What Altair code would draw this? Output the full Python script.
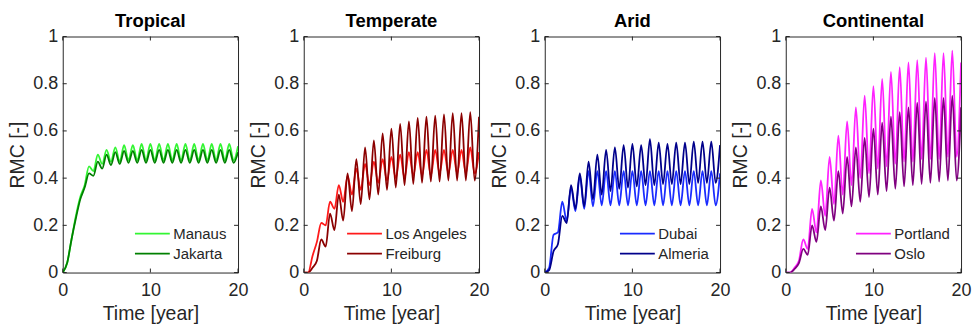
import altair as alt
import pandas as pd

# ---------------- data ----------------
time_years = [0, 0.5, 1, 1.5, 2, 2.5, 3, 3.5, 4, 4.5,
              5, 5.5, 6, 6.5, 7, 7.5, 8, 8.5, 9, 9.5,
              10, 10.5, 11, 11.5, 12, 12.5, 13, 13.5, 14, 14.5,
              15, 15.5, 16, 16.5, 17, 17.5, 18, 18.5, 19, 19.5,
              20]

manaus = [0, 0.04, 0.14, 0.24, 0.32, 0.37, 0.45, 0.43, 0.50, 0.46,
          0.52, 0.47, 0.53, 0.47, 0.54, 0.475, 0.54, 0.475, 0.545, 0.475,
          0.545, 0.475, 0.545, 0.475, 0.545, 0.475, 0.545, 0.475, 0.545, 0.475,
          0.545, 0.475, 0.545, 0.475, 0.545, 0.475, 0.545, 0.475, 0.545, 0.475,
          0.535]
jakarta = [0, 0.04, 0.14, 0.23, 0.31, 0.36, 0.42, 0.41, 0.47, 0.44,
           0.50, 0.455, 0.51, 0.46, 0.515, 0.465, 0.515, 0.465, 0.52, 0.465,
           0.52, 0.465, 0.52, 0.465, 0.52, 0.465, 0.52, 0.465, 0.52, 0.465,
           0.52, 0.465, 0.52, 0.465, 0.52, 0.465, 0.52, 0.465, 0.52, 0.465,
           0.51]
los_angeles = [0, 0.0, 0.07, 0.13, 0.21, 0.20, 0.30, 0.27, 0.37, 0.30,
               0.41, 0.33, 0.44, 0.35, 0.46, 0.37, 0.47, 0.38, 0.48, 0.39,
               0.49, 0.40, 0.50, 0.40, 0.51, 0.41, 0.51, 0.41, 0.52, 0.41,
               0.52, 0.42, 0.52, 0.42, 0.52, 0.42, 0.52, 0.42, 0.53, 0.42,
               0.51]
freiburg = [0, 0.0, 0.02, 0.05, 0.14, 0.11, 0.25, 0.18, 0.33, 0.22,
            0.42, 0.26, 0.48, 0.29, 0.53, 0.31, 0.56, 0.33, 0.59, 0.35,
            0.61, 0.36, 0.63, 0.37, 0.64, 0.375, 0.655, 0.38, 0.66, 0.385,
            0.665, 0.385, 0.67, 0.39, 0.675, 0.39, 0.675, 0.39, 0.68, 0.39,
            0.66]
dubai = [0, 0.02, 0.16, 0.17, 0.30, 0.22, 0.36, 0.26, 0.41, 0.27,
         0.43, 0.28, 0.43, 0.285, 0.43, 0.285, 0.43, 0.285, 0.43, 0.285,
         0.43, 0.285, 0.43, 0.285, 0.43, 0.285, 0.43, 0.285, 0.43, 0.285,
         0.43, 0.285, 0.43, 0.285, 0.43, 0.285, 0.43, 0.285, 0.43, 0.285,
         0.42]
almeria = [0, 0.01, 0.09, 0.12, 0.24, 0.21, 0.37, 0.27, 0.42, 0.28,
           0.47, 0.31, 0.50, 0.33, 0.52, 0.345, 0.53, 0.355, 0.54, 0.36,
           0.545, 0.365, 0.54, 0.37, 0.565, 0.37, 0.55, 0.375, 0.545, 0.375,
           0.55, 0.375, 0.55, 0.375, 0.555, 0.38, 0.555, 0.38, 0.555, 0.38,
           0.54]
portland = [0, 0.0, 0.02, 0.05, 0.14, 0.10, 0.27, 0.17, 0.39, 0.24,
            0.49, 0.29, 0.58, 0.33, 0.64, 0.37, 0.70, 0.40, 0.75, 0.42,
            0.79, 0.44, 0.82, 0.45, 0.85, 0.46, 0.87, 0.47, 0.89, 0.47,
            0.90, 0.48, 0.91, 0.48, 0.93, 0.48, 0.93, 0.49, 0.94, 0.49,
            0.89]
oslo = [0, 0.0, 0.015, 0.04, 0.10, 0.075, 0.20, 0.13, 0.28, 0.18,
        0.36, 0.22, 0.43, 0.25, 0.49, 0.28, 0.53, 0.30, 0.57, 0.32,
        0.61, 0.33, 0.635, 0.345, 0.66, 0.355, 0.68, 0.365, 0.70, 0.37,
        0.72, 0.375, 0.725, 0.38, 0.74, 0.385, 0.74, 0.39, 0.75, 0.39,
        0.70]

panel_titles = ["Tropical", "Temperate", "Arid", "Continental"]
panel_cities = [["Manaus", "Jakarta"], ["Los Angeles", "Freiburg"],
                ["Dubai", "Almeria"], ["Portland", "Oslo"]]
panel_series = [[manaus, jakarta], [los_angeles, freiburg],
                [dubai, almeria], [portland, oslo]]
panel_colors = [["#33f533", "#008000"], ["#ff1a1a", "#8b0000"],
                ["#1a2cff", "#00008b"], ["#ff22ff", "#800080"]]

x_ticks = [0, 10, 20]
y_ticks = [0, 0.2, 0.4, 0.6, 0.8, 1]

# ---------------- styling ----------------
FONT = "Liberation Sans"
W, H = 176, 237
TICK = 4
INK = "#262626"


def make_panel(title, cities, series, colors):
    rows = []
    for city, vals in zip(cities, series):
        for t, v in zip(time_years, vals):
            rows.append({"Time": t, "RMC": v, "City": city})
    df = pd.DataFrame(rows)

    x_scale = alt.Scale(domain=[0, 20], nice=False)
    y_scale = alt.Scale(domain=[0, 1], nice=False)

    x_axis = alt.Axis(values=x_ticks, title="Time [year]", grid=False, domain=False,
                      ticks=False, tickSize=0, labelFlush=False, labelPadding=9,
                      labelFont=FONT, labelFontSize=18, labelColor=INK,
                      titleFont=FONT, titleFontSize=19.5, titleFontWeight="normal",
                      titleColor=INK, titlePadding=5)
    y_axis = alt.Axis(values=y_ticks, format="~g", title="RMC [-]", grid=False,
                      domain=False, ticks=False, tickSize=0, labelPadding=5,
                      labelFont=FONT, labelFontSize=18, labelColor=INK,
                      titleFont=FONT, titleFontSize=19.5, titleFontWeight="normal",
                      titleColor=INK, titlePadding=5)

    lines = alt.Chart(df).mark_line(strokeWidth=1.8, interpolate="monotone", clip=True).encode(
        x=alt.X("Time:Q", scale=x_scale, axis=x_axis),
        y=alt.Y("RMC:Q", scale=y_scale, axis=y_axis),
        color=alt.Color("City:N", scale=alt.Scale(domain=cities, range=colors),
                        sort=cities,
                        legend=alt.Legend(orient="bottom-right", title=None,
                                          symbolType="M-1.75,0H1.75", symbolSize=400,
                                          symbolStrokeWidth=1.8, labelFont=FONT,
                                          labelFontSize=15, labelColor=INK,
                                          labelOffset=10, rowPadding=1, padding=0,
                                          offset=11)),
    )

    ydf = pd.DataFrame({"RMC": y_ticks})
    xdf = pd.DataFrame({"Time": x_ticks})
    left_t = alt.Chart(ydf).mark_rule(color=INK, strokeWidth=1).encode(
        y=alt.Y("RMC:Q", scale=y_scale), x=alt.value(0), x2=alt.value(TICK))
    right_t = alt.Chart(ydf).mark_rule(color=INK, strokeWidth=1).encode(
        y=alt.Y("RMC:Q", scale=y_scale), x=alt.value(W - TICK), x2=alt.value(W))
    bot_t = alt.Chart(xdf).mark_rule(color=INK, strokeWidth=1).encode(
        x=alt.X("Time:Q", scale=x_scale), y=alt.value(H - TICK), y2=alt.value(H))
    top_t = alt.Chart(xdf).mark_rule(color=INK, strokeWidth=1).encode(
        x=alt.X("Time:Q", scale=x_scale), y=alt.value(0), y2=alt.value(TICK))

    return alt.layer(lines, left_t, right_t, bot_t, top_t).properties(
        width=W, height=H,
        title=alt.TitleParams(title, font=FONT, fontSize=18.5, fontWeight="bold",
                              color="black", offset=-3, anchor="middle"),
    )


panels = [make_panel(t, c, s, col) for t, c, s, col in
          zip(panel_titles, panel_cities, panel_series, panel_colors)]

chart = alt.hconcat(*panels, spacing=66, bounds="flush").resolve_scale(
    color="independent"
).properties(
    padding={"left": 7, "top": 11, "right": 0, "bottom": 0},
    background="white",
).configure_view(stroke=INK, strokeWidth=1)

chart.save("out.html", embed_options={"renderer": "svg", "actions": False})
